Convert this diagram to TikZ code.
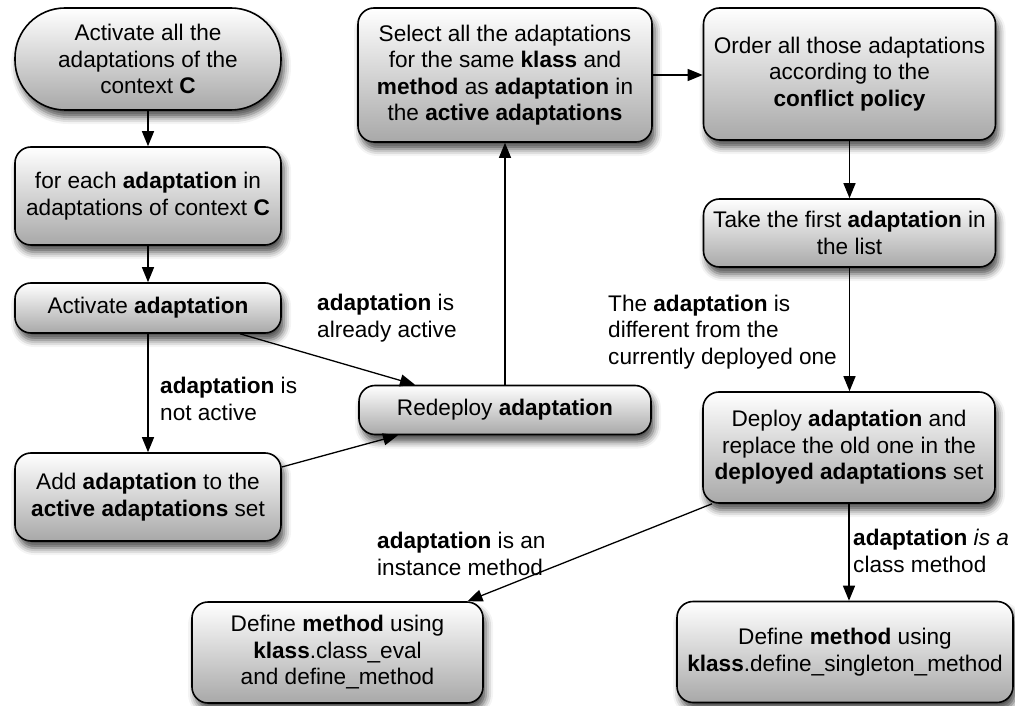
\documentclass[tikz,border=0pt]{standalone}
\usepackage{fontspec}
\setmainfont{Liberation Sans}
\usetikzlibrary{arrows.meta,shadows.blur}

\tikzset{
  box/.style={draw=black, line width=1.6pt, rounded corners=16pt,
    top color=white, bottom color=black!34, align=center, inner sep=0pt,
    blur shadow={shadow xshift=3pt, shadow yshift=-7pt,
      shadow blur radius=7pt, shadow opacity=70}},
  lbl/.style={align=left, anchor=west, inner sep=0pt},
  flow/.style={line width=1.3pt, -{Triangle[length=15pt,width=12pt]}},
}

\begin{document}
\begin{tikzpicture}[x=1pt, y=-1pt,
  every node/.style={font=\fontsize{22.6}{26.5}\selectfont}]
\useasboundingbox (0,0) rectangle (1015,706);

% left column
\node[box, rounded corners=50pt, minimum width=266pt, minimum height=102pt] (A) at (148,59)
  {Activate all the\\adaptations of the\\context \textbf{C}};
\node[box, minimum width=266pt, minimum height=98pt] (B) at (148,196)
  {for each \textbf{adaptation} in\\adaptations of context \textbf{C}};
\node[box, minimum width=266pt, minimum height=50pt] (C) at (148,308)
  {Activate \textbf{adaptation}};
\node[box, minimum width=266pt, minimum height=88pt] (D) at (148,497)
  {Add \textbf{adaptation} to the\\\textbf{active adaptations} set};

% middle column
\node[box, minimum width=292pt, minimum height=49pt] (E) at (505,410)
  {Redeploy \textbf{adaptation}};
\node[box, minimum width=294pt, minimum height=134pt] (F) at (505,75)
  {Select all the adaptations\\for the same \textbf{klass} and\\\textbf{method} as \textbf{adaptation} in\\the \textbf{active adaptations}};

% right column
\node[box, minimum width=292pt, minimum height=132pt] (G) at (849.5,74)
  {Order all those adaptations\\according to the\\\textbf{conflict policy}};
\node[box, minimum width=292pt, minimum height=68pt] (H) at (849.5,233)
  {Take the first \textbf{adaptation} in\\the list};
\node[box, minimum width=292pt, minimum height=111pt] (I) at (849,447.5)
  {Deploy \textbf{adaptation} and\\replace the old one in the\\\textbf{deployed adaptations} set};

% bottom row
\node[box, minimum width=291pt, minimum height=101pt] (J) at (337.5,652.5)
  {Define \textbf{method} using\\\textbf{klass}.class\_eval\\and define\_method};
\node[box, minimum width=336pt, minimum height=101pt] (K) at (845,652)
  {Define \textbf{method} using\\\textbf{klass}.define\_singleton\_method};

% connectors
\draw[flow] (A.south) -- (B.north);
\draw[flow] (B.south) -- (C.north);
\draw[flow] (C.south) -- (D.north);
\draw[flow] ([xshift=92pt]C.south) -- ([xshift=-90pt]E.north);
\draw[flow] ([yshift=30pt]D.east) -- ([xshift=-107pt]E.south);
\draw[flow] (E.north) -- (F.south);
\draw[flow] (F.east) -- (F.east -| G.west);
\draw[flow] (G.south) -- (H.north);
\draw[flow] (H.south) -- (H.south |- I.north);
\draw[flow] ([xshift=-137pt]I.south) -- ([xshift=130pt]J.north);
\draw[flow] (I.south) -- (I.south |- K.north);

% connector labels
\node[lbl] (l1) at (160,399) {\textbf{adaptation} is\\not active};
\node[lbl] (l2) at (317,318) {\textbf{adaptation} is\\already active};
\node[lbl] (l3) at (608,332) {The \textbf{adaptation} is\\different from the\\currently deployed one};
\node[lbl] (l4) at (377,554) {\textbf{adaptation} is an\\instance method};
\node[lbl] (l5) at (853,551) {\textbf{adaptation} \textit{is a}\\class method};
\end{tikzpicture}
\end{document}
